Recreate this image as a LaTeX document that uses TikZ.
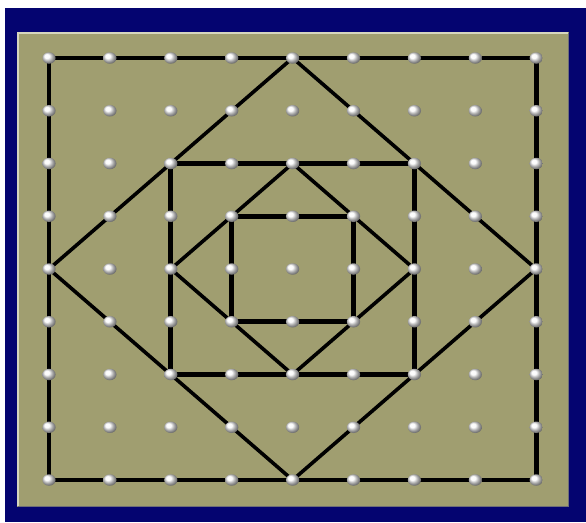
\documentclass[tikz,border=0pt]{standalone}
\usetikzlibrary{calc}
\definecolor{navy}{RGB}{4,4,112}
\definecolor{board}{RGB}{160,158,112}
\definecolor{boardhi}{RGB}{214,214,190}
\definecolor{boardlo}{RGB}{110,110,120}
\tikzset{
  band/.style={line width=4.8pt, black, line cap=round, line join=round},
  slant/.style={line width=3.6pt, black, line cap=round, line join=round},
  peg/.style={circle, inner sep=0pt, minimum width=11.5pt, minimum height=11.5pt, shading=ball, ball color=white!95!gray, xscale=1.15},
}
\begin{document}
\begin{tikzpicture}[x=1pt,y=-1pt]
\useasboundingbox (0,0) rectangle (586,522);
\fill[white] (0,0) rectangle (586,522);
\fill[navy] (5,8) rectangle (586,522);
\fill[board] (17,32) rectangle (569,507);
\draw[boardhi, line width=2pt] (18,506) -- (18,33) -- (568,33);
\draw[boardlo, line width=1.5pt] (18,506.5) -- (568.5,506.5) -- (568.5,33);
% grid coordinates
\foreach \i in {0,...,8}{
  \foreach \j in {0,...,8}{
    \coordinate (c\i\j) at ({49+60.9*\i},{58+52.75*\j});
  }
}
% squares
\draw[band] (c00) -- (c80) -- (c88) -- (c08) -- cycle;
\draw[band] (c22) -- (c62) -- (c66) -- (c26) -- cycle;
\draw[band] (c33) -- (c53) -- (c55) -- (c35) -- cycle;
% diamonds
\draw[slant] (c40) -- (c84) -- (c48) -- (c04) -- cycle;
\draw[slant] (c42) -- (c64) -- (c46) -- (c24) -- cycle;
% pegs
\foreach \i in {0,...,8}{
  \foreach \j in {0,...,8}{
    \node[peg] (p\i\j) at (c\i\j) {};
  }
}
\end{tikzpicture}
\end{document}
